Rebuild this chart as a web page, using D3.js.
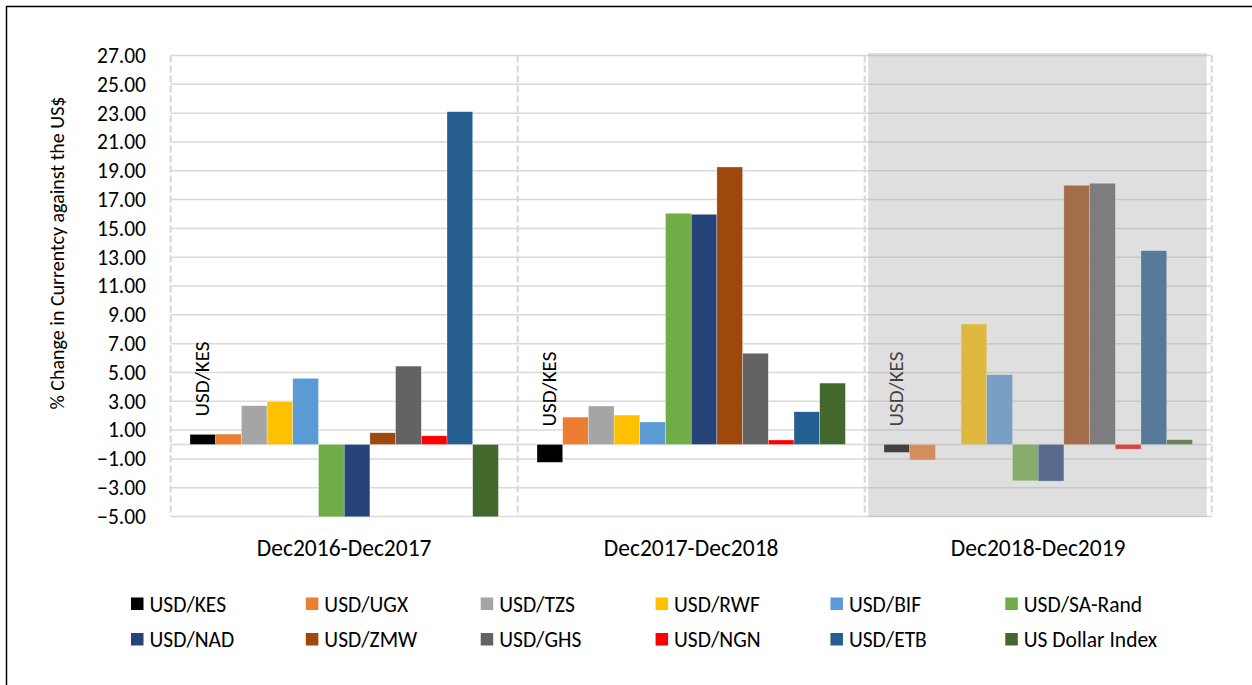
<!DOCTYPE html>
<html>
<head>
<meta charset="utf-8">
<script src="https://cdn.jsdelivr.net/npm/d3@7"></script>
<style>
  body { margin: 0; background: #fff; }
  svg { display: block; }
  text { font-family: Carlito, Calibri, Lato, sans-serif; }
</style>
</head>
<body>
<svg id="chart" width="1252" height="685"></svg>
<script>
// chart data
const periods = ["Dec2016-Dec2017", "Dec2017-Dec2018", "Dec2018-Dec2019"];
const pairs = [
  "USD/KES", "USD/UGX", "USD/TZS", "USD/RWF", "USD/BIF", "USD/SA-Rand",
  "USD/NAD", "USD/ZMW", "USD/GHS", "USD/NGN", "USD/ETB", "US Dollar Index",
];
const pairColors = [
  "#000000", "#ed7d31", "#a5a5a5", "#ffc000", "#5b9bd5", "#70ad47",
  "#264478", "#9e480e", "#636363", "#ff0000", "#255e91", "#43682b",
];
const dec2016Dec2017 = [0.70, 0.72, 2.69, 2.97, 4.59, -9.5, -9.5, 0.81, 5.44, 0.60, 23.10, -9.9];
const dec2017Dec2018 = [-1.24, 1.90, 2.67, 2.04, 1.56, 16.05, 15.98, 19.26, 6.33, 0.31, 2.27, 4.26];
const dec2018Dec2019 = [-0.55, -1.08, -0.04, 8.36, 4.84, -2.52, -2.54, 17.99, 18.13, -0.32, 13.45, 0.33];
const yTicks = d3.range(-5, 28, 2);
const yTitle = "% Change in Currentcy against the US$";
const labelledPair = "USD/KES";

const values = [dec2016Dec2017, dec2017Dec2018, dec2018Dec2019];

const svg = d3.select("#chart");
const plot = { left: 170.7, right: 1211.7, top: 55.5, bottom: 516.5 };

const x0 = d3.scaleBand().domain(periods).range([plot.left, plot.right]);
const x1 = d3
  .scaleBand()
  .domain(pairs)
  .range([19.3, x0.bandwidth() - 19.3]);
const y = d3.scaleLinear().domain([-5, 27]).range([plot.bottom, plot.top]);
const color = d3.scaleOrdinal().domain(pairs).range(pairColors);

// outer frame
svg.append("rect")
  .attr("x", 6.5).attr("y", 6.5)
  .attr("width", 1260).attr("height", 700)
  .attr("fill", "none").attr("stroke", "#000").attr("stroke-width", 1.5);

svg.append("defs").append("clipPath").attr("id", "plotclip")
  .append("rect")
  .attr("x", plot.left).attr("y", y(27))
  .attr("width", plot.right - plot.left).attr("height", y(-5) - y(27));

// gridlines (zero line is just another gridline here)
svg.append("g")
  .selectAll("line")
  .data(yTicks.concat([0]))
  .join("line")
  .attr("x1", plot.left).attr("x2", plot.right)
  .attr("y1", (d) => y(d)).attr("y2", (d) => y(d))
  .attr("stroke", "#d9d9d9").attr("stroke-width", 1.5);

// tick labels
const yAxis = d3.axisLeft(y).tickValues(yTicks).tickFormat(d3.format(".2f")).tickSize(0).tickPadding(0);
const gy = svg.append("g").attr("transform", "translate(146,0)").call(yAxis);
gy.select(".domain").remove();
gy.selectAll("text").attr("font-size", 21.5).attr("fill", "#000").attr("font-family", null);

// dashed separators between periods
const seps = periods.map((p) => x0(p)).concat([plot.right]);
svg.append("g")
  .selectAll("line")
  .data(seps)
  .join("line")
  .attr("x1", (d) => d).attr("x2", (d) => d)
  .attr("y1", y(27)).attr("y2", y(-5))
  .attr("stroke", "#d9d9d9").attr("stroke-width", 2.2)
  .attr("stroke-dasharray", "7,3");

// bars
const groups = svg.append("g")
  .attr("clip-path", "url(#plotclip)")
  .selectAll("g")
  .data(periods)
  .join("g")
  .attr("transform", (p) => `translate(${x0(p)},0)`);

groups.selectAll("rect")
  .data((p, i) => pairs.map((name, j) => ({ name, value: values[i][j] })))
  .join("rect")
  .attr("x", (d) => x1(d.name))
  .attr("width", x1.bandwidth())
  .attr("y", (d) => y(Math.max(0, d.value)))
  .attr("height", (d) => Math.abs(y(d.value) - y(0)))
  .attr("fill", (d) => color(d.name))
  .attr("stroke", "#fff").attr("stroke-width", 0.5).attr("stroke-opacity", 0.6);

// rotated KES label sitting above its bar
groups.append("text")
  .attr("transform", (p, i) => {
    const v = values[i][pairs.indexOf(labelledPair)];
    const cx = x1(labelledPair) + x1.bandwidth() / 2 - 1;
    const by = Math.min(y(v), y(0)) - 18;
    return `translate(${cx},${by}) rotate(-90)`;
  })
  .attr("dy", "0.35em")
  .attr("font-size", 21)
  .attr("fill", "#000")
  .text(labelledPair);

// translucent shading over the last period
svg.append("rect")
  .attr("x", x0(periods[2]) + 3.5).attr("y", 53)
  .attr("width", x0.bandwidth() - 8.5).attr("height", 464)
  .attr("fill", "#aaaaaa").attr("fill-opacity", 0.376);

// category labels
svg.append("g")
  .selectAll("text")
  .data(periods)
  .join("text")
  .attr("x", (p) => x0(p) + x0.bandwidth() / 2)
  .attr("y", 548)
  .attr("dy", "0.35em")
  .attr("text-anchor", "middle")
  .attr("font-size", 23.5)
  .text((p) => p);

// y title
svg.append("text")
  .attr("transform", "translate(57,253) rotate(-90)")
  .attr("text-anchor", "middle")
  .attr("dy", "0.35em")
  .attr("font-size", 20)
  .text(yTitle);

// legend, 6 columns x 2 rows
const legend = svg.append("g")
  .selectAll("g")
  .data(pairs)
  .join("g")
  .attr("transform", (d, i) => `translate(${131 + (i % 6) * 174.86},${604 + Math.floor(i / 6) * 35.5})`);
legend.append("rect")
  .attr("x", 0).attr("y", -6.5)
  .attr("width", 12.5).attr("height", 12.5)
  .attr("fill", (d) => color(d));
legend.append("text")
  .attr("x", 18.5)
  .attr("dy", "0.35em")
  .attr("font-size", 21.5)
  .text((d) => d);
</script>
</body>
</html>
